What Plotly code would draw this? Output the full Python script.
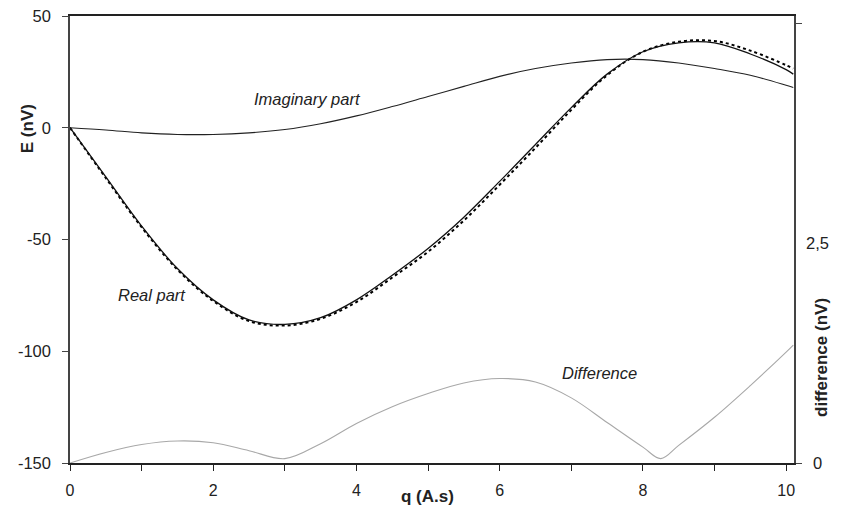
import plotly.graph_objects as go

q = [0, 0.5, 1, 1.5, 2, 2.5, 3, 3.5, 4, 4.5, 5, 5.5, 6, 6.5, 7, 7.5, 8, 8.5, 9, 9.5, 10, 10.1]
real_part = [0, -22, -44, -63, -77, -86, -88, -85, -77, -66, -54, -40, -24, -7.5, 9, 24, 34, 38, 38, 33, 26, 24]
real_fit = [0, -22.5, -44.5, -63.5, -77.5, -86.5, -88.5, -85.5, -78, -67, -55.5, -41.5, -25.5, -9, 8, 23.5, 34, 38.5, 38.8, 34.5, 28, 26.5]
imag_part = [0, -1, -2.3, -3, -3, -2.3, -0.8, 1.8, 5.3, 9.5, 14, 18.5, 23, 26.5, 29, 30.5, 30.5, 29, 26.5, 23.5, 19, 18]

q_diff = [0, 0.5, 1, 1.5, 2, 2.5, 3, 3.5, 4, 4.5, 5, 5.5, 6, 6.5, 7, 7.5, 8, 8.25, 8.5, 9, 9.5, 10, 10.1]
difference = [0, 0.12, 0.21, 0.25, 0.23, 0.14, 0.05, 0.22, 0.45, 0.64, 0.79, 0.91, 0.96, 0.92, 0.74, 0.46, 0.18, 0.05, 0.2, 0.52, 0.88, 1.26, 1.34]

x_ticks = [0, 1, 2, 3, 4, 5, 6, 7, 8, 9, 10]
x_labels = ["0", "", "2", "", "4", "", "6", "", "8", "", "10"]
y_ticks = [50, 0, -50, -100, -150]
y_labels = ["50", "0", "-50", "-100", "-150"]
y2_ticks = [0, 5]
y2_labels = ["0", ""]
y2_mid_value = 2.5
y2_mid_label = "2,5"

FONT = "Liberation Sans, Arial, sans-serif"

fig = go.Figure()
fig.add_trace(go.Scatter(x=q_diff, y=difference, yaxis="y2", mode="lines",
                         line=dict(color="#a8a8a8", width=1.1, shape="spline"), name="Difference"))
fig.add_trace(go.Scatter(x=q, y=imag_part, mode="lines",
                         line=dict(color="#222222", width=1.1, shape="spline"), name="Imaginary part"))
fig.add_trace(go.Scatter(x=q, y=real_fit, mode="lines",
                         line=dict(color="#000000", width=2, dash="dot", shape="spline"), name="Real fit"))
fig.add_trace(go.Scatter(x=q, y=real_part, mode="lines",
                         line=dict(color="#111111", width=1.3, shape="spline"), name="Real part"))

fig.update_layout(
    width=842, height=508,
    margin=dict(l=70, r=48, t=16, b=45, autoexpand=False),
    paper_bgcolor="white", plot_bgcolor="white",
    showlegend=False,
    font=dict(family=FONT, size=16, color="#222222"),
    xaxis=dict(range=[0, 10.11], tickvals=x_ticks, ticktext=x_labels, automargin=False,
               ticks="outside", ticklen=6, tickcolor="#222", showgrid=False, zeroline=False,
               showline=True, linecolor="#222", linewidth=1.5, mirror=True,
               ticklabelstandoff=6, tickfont=dict(size=16)),
    yaxis=dict(range=[-150, 50], tickvals=y_ticks, ticktext=y_labels, automargin=False,
               ticks="outside", ticklen=6, tickcolor="#444",
               showgrid=False, zeroline=False, showline=True, linecolor="#444", linewidth=1.5,
               ticklabelstandoff=8, tickfont=dict(size=16.5)),
    yaxis2=dict(range=[0, 5.08], overlaying="y", side="right", tickvals=y2_ticks, ticktext=y2_labels,
                automargin=False, ticks="outside", ticklen=6, tickcolor="#444", showgrid=False,
                zeroline=False, showline=True, linecolor="#444", linewidth=1.5, ticklabelstandoff=8,
                tickfont=dict(size=16.5)),
    annotations=[
        dict(text=y2_mid_label, xref="paper", yref="y2", x=1, y=y2_mid_value, xshift=10,
             showarrow=False, xanchor="left", yanchor="middle", font=dict(size=16.5)),
        dict(text="<b>q (A.s)</b>", xref="paper", yref="paper", x=0.494, y=-0.076,
             showarrow=False, xanchor="center", yanchor="middle", font=dict(size=17)),
        dict(text="<b>E (nV)</b>", xref="paper", yref="paper", x=-0.0594, y=0.749,
             showarrow=False, textangle=-90, xanchor="center", yanchor="middle", font=dict(size=17)),
        dict(text="<b>difference (nV)</b>", xref="paper", yref="paper", x=1.0387, y=0.235,
             showarrow=False, textangle=-90, xanchor="center", yanchor="middle", font=dict(size=17)),
        dict(text="<i>Imaginary part</i>", x=3.31, y=13, showarrow=False,
             xanchor="center", yanchor="middle", font=dict(size=16.5)),
        dict(text="<i>Real part</i>", x=1.15, y=-75, showarrow=False,
             xanchor="center", yanchor="middle", font=dict(size=16.5)),
        dict(text="<i>Difference</i>", x=7.4, y=-109.6, showarrow=False,
             xanchor="center", yanchor="middle", font=dict(size=16.5)),
    ],
)

fig.write_html("out.html")
